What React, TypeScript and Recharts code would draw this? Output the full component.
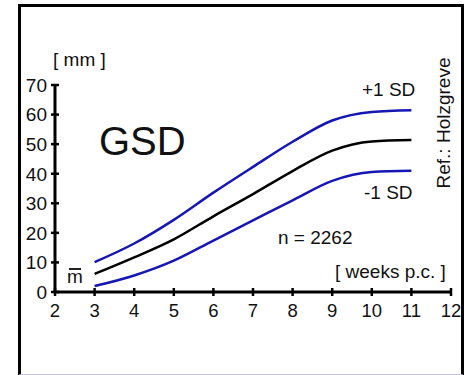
import { Line, LineChart, XAxis, YAxis } from 'recharts';

// GSD growth curve, mean and +/- 1 SD (Holzgreve)
const weeks = [3, 4, 5, 6, 7, 8, 9, 10, 11];
const mean = [6.1, 11.7, 17.8, 25.6, 33.1, 40.9, 47.8, 50.9, 51.4];
const plusSd = [10.1, 16.4, 24.4, 33.6, 42.3, 50.8, 58.0, 60.9, 61.5];
const minusSd = [2.0, 5.6, 10.6, 17.4, 24.2, 31.0, 37.6, 40.6, 41.0];
const xTicks = [2, 3, 4, 5, 6, 7, 8, 9, 10, 11, 12];
const yTicks = [0, 10, 20, 30, 40, 50, 60, 70];

const FONT = '"Liberation Sans", Arial, Helvetica, sans-serif';
const BLUE = '#1616b4';

const data = weeks.map((w, i) => ({
  week: w,
  mean: mean[i],
  hi: plusSd[i],
  lo: minusSd[i],
}));

function YTick({ x, y, payload }: any) {
  return (
    <g>
      <line x1={x - 4} x2={x + 4} y1={y} y2={y} stroke="#000" strokeWidth={2.5} />
      <text x={x - 8} y={y} dy="0.36em" textAnchor="end" fontSize={19} fontFamily={FONT} fill="#111">
        {payload.value}
      </text>
    </g>
  );
}

function XTick({ x, y, payload }: any) {
  return (
    <g>
      <line x1={x} x2={x} y1={y - 4} y2={y + 4} stroke="#000" strokeWidth={2.5} />
      <text x={x} y={y + 25} textAnchor="middle" fontSize={18.5} fontFamily={FONT} fill="#111">
        {payload.value}
      </text>
    </g>
  );
}

const txt = (extra: React.CSSProperties): React.CSSProperties => ({
  position: 'absolute',
  fontFamily: FONT,
  color: '#111',
  whiteSpace: 'nowrap',
  lineHeight: 1,
  ...extra,
});

export default function App() {
  return (
    <div style={{ position: 'absolute', left: 0, top: 0, width: 471, height: 375, background: '#fff', overflow: 'hidden' }}>
      <div
        style={{
          position: 'absolute',
          left: 18,
          top: 4,
          width: 446,
          height: 371,
          boxSizing: 'border-box',
          borderLeft: '3px solid #000',
          borderTop: '3px solid #000',
          borderRight: '3px solid #000',
          borderBottom: '1px solid #c8c4e4',
        }}
      />
      <div style={{ position: 'absolute', left: 0, top: 0 }}>
        <LineChart width={471} height={375} data={data} margin={{ top: 85, right: 20, left: 0, bottom: 0 }}>
          <XAxis
            dataKey="week"
            type="number"
            domain={[2, 12]}
            ticks={xTicks}
            height={83}
            tickSize={0}
            tickMargin={0}
            tick={<XTick />}
            axisLine={{ stroke: '#000', strokeWidth: 3 }}
            interval={0}
          />
          <YAxis
            type="number"
            domain={[0, 70]}
            ticks={yTicks}
            width={55}
            tickSize={0}
            tickMargin={0}
            tick={<YTick />}
            axisLine={{ stroke: '#000', strokeWidth: 3 }}
            interval={0}
          />
          <Line type="monotone" dataKey="hi" stroke={BLUE} strokeWidth={2.5} dot={false} isAnimationActive={false} />
          <Line type="monotone" dataKey="mean" stroke="#000" strokeWidth={2.5} dot={false} isAnimationActive={false} />
          <Line type="monotone" dataKey="lo" stroke={BLUE} strokeWidth={2.5} dot={false} isAnimationActive={false} />
        </LineChart>
      </div>
      <div style={txt({ left: 53, top: 50, fontSize: 19 })}>[ mm ]</div>
      <div style={txt({ left: 99, top: 121, fontSize: 40 })}>GSD</div>
      {/* mean symbol: m with a bar over it */}
      <div style={txt({ left: 67, top: 267, fontSize: 19 })}>m</div>
      <div style={{ position: 'absolute', left: 69, top: 268, width: 12, height: 1.5, background: '#222' }} />
      <div style={txt({ left: 362, top: 80, fontSize: 19 })}>+1 SD</div>
      <div style={txt({ left: 364, top: 183, fontSize: 19 })}>-1 SD</div>
      <div style={txt({ left: 278, top: 228, fontSize: 19 })}>n = 2262</div>
      <div style={txt({ left: 335, top: 262, fontSize: 19 })}>[ weeks p.c. ]</div>
      <div
        style={txt({
          left: 443,
          top: 123,
          fontSize: 19,
          transform: 'translate(-50%, -50%) rotate(-90deg)',
        })}
      >
        Ref.: Holzgreve
      </div>
    </div>
  );
}
